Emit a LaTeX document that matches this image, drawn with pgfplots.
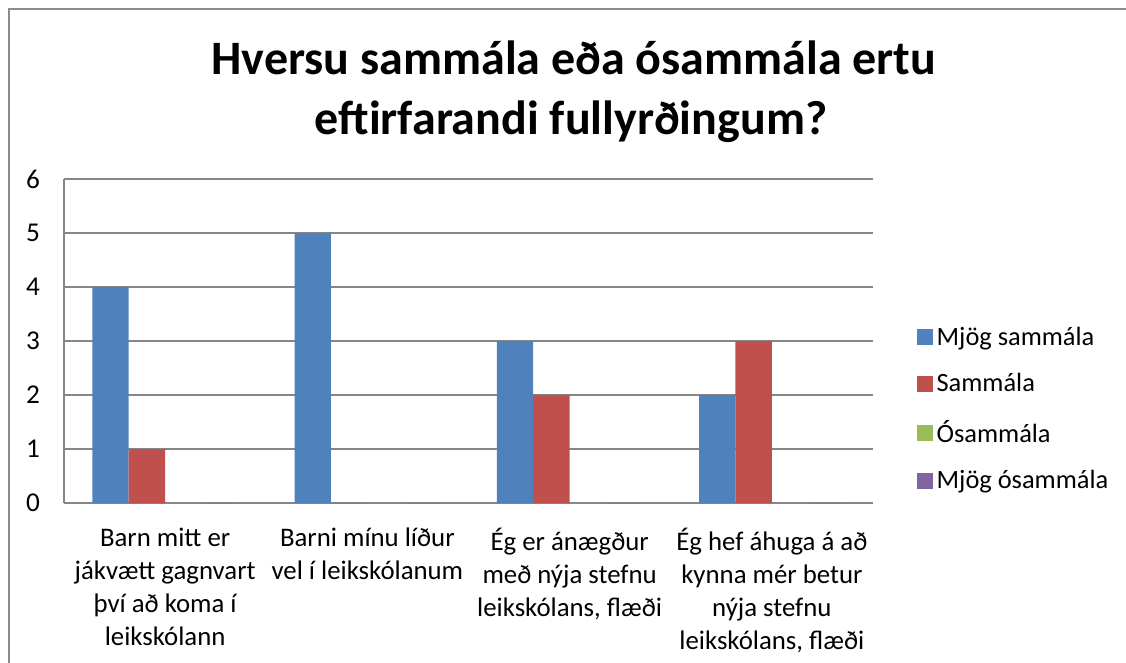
\documentclass[border=0pt]{standalone}
\usepackage{pgfplots}
\pgfplotsset{compat=1.18}
\usepackage{fontspec}
\setmainfont{Carlito}
\definecolor{sblue}{HTML}{4F81BD}
\definecolor{sred}{HTML}{C0504D}
\definecolor{sgreen}{HTML}{9BBB59}
\definecolor{spurple}{HTML}{8064A2}
\definecolor{gridgray}{HTML}{868686}
\definecolor{bordergray}{HTML}{8C8C8C}
\begin{document}
\begin{tikzpicture}[x=0.5pt,y=-0.5pt]
\useasboundingbox (0,0) rectangle (1126,663);
\draw[color=bordergray, line width=1pt] (9,670) -- (9,9) -- (1130,9);
\node[font=\bfseries\fontsize{24}{29}\selectfont, anchor=base] at (574,75) {Hversu sammála eða ósammála ertu};
\node[font=\bfseries\fontsize{24}{29}\selectfont, anchor=base] at (571,135) {eftirfarandi fullyrðingum?};
\begin{axis}[
  at={(32pt,-251.5pt)}, anchor=south west,
  scale only axis, width=404.5pt, height=162pt,
  ybar=0pt, bar width=0.18,
  xmin=-0.5, xmax=3.5, ymin=0, ymax=6,
  xtick={0,1,2,3},
  xticklabels={{Barn mitt er\\jákvætt gagnvart\\því að koma í\\leikskólann},
               {Barni mínu líður\\vel í leikskólanum},
               {Ég er ánægður\\með nýja stefnu\\leikskólans, flæði},
               {Ég hef áhuga á að\\kynna mér betur\\nýja stefnu\\leikskólans, flæði}},
  xticklabel style={align=center, anchor=north, font=\fontsize{13.4}{16.5}\selectfont, yshift=-9pt},
  ytick={0,1,...,6},
  yticklabel style={font=\fontsize{13.6}{16}\selectfont, xshift=-8.5pt},
  /pgf/number format/assume math mode=true,
  major tick length=0pt,
  axis lines=left,
  axis line style={draw=gridgray, line width=0.6pt, -},
  ymajorgrids, grid style={draw=gridgray, line width=0.6pt},
  legend style={at={(1.046,0.289)}, anchor=west, draw=none, fill=none,
    font=\fontsize{13.2}{16}\selectfont, row sep=8.7pt, cells={anchor=west}},
  legend image code/.code={\fill[#1] (0pt,-4pt) rectangle (8pt,4pt);},
]
\addplot[fill=sblue, draw=none] coordinates {(0,4) (1,5) (2,3) (3,2)};
\addplot[fill=sred, draw=none] coordinates {(0,1) (1,0) (2,2) (3,3)};
\addplot[fill=sgreen, draw=none] coordinates {(0,0) (1,0) (2,0) (3,0)};
\addplot[fill=spurple, draw=none] coordinates {(0,0) (1,0) (2,0) (3,0)};
\legend{Mjög sammála, Sammála, Ósammála, Mjög ósammála}
\end{axis}
\end{tikzpicture}
\end{document}
